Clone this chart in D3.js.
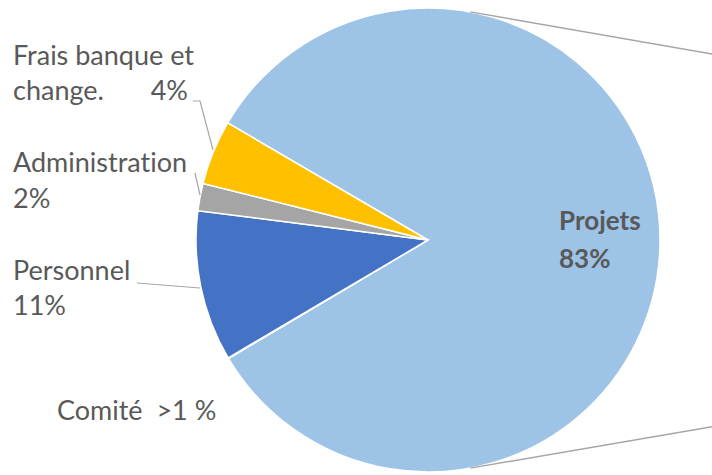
<!DOCTYPE html>
<html>
<head>
<meta charset="utf-8">
<script src="https://cdn.jsdelivr.net/npm/d3@7"></script>
<style>
  body { margin: 0; background: #fff; }
  text { font-family: Lato, "Open Sans", sans-serif; fill: #595959; font-variant-ligatures: none; }
</style>
</head>
<body>
<svg width="712" height="475"></svg>
<script>
// slices, clockwise from the top-left edge of "Projets"
const categories = ['Projets', 'Comité', 'Personnel', 'Administration', 'Frais banque et change.'];
const shares = [83.05, 0.05, 10.5, 1.9, 4.5];
const shownLabels = ['83%', '>1 %', '11%', '2%', '4%'];
const colors = ['#9DC3E6', '#9DC3E6', '#4472C4', '#A5A5A5', '#FFC000'];

const svg = d3.select('svg');
const cx = 428, cy = 240, r = 232;
const g = svg.append('g').attr('transform', `translate(${cx},${cy})`);

const startA = -59.7 * Math.PI / 180;
const pie = d3.pie().sort(null).startAngle(startA).endAngle(startA + 2 * Math.PI);
const arcs = pie(shares).map((a, i) => Object.assign(a, {i}));
const arc = d3.arc().innerRadius(0).outerRadius(r);

g.selectAll('path.slice')
  .data(arcs)
  .enter().append('path')
  .attr('class', 'slice')
  .attr('d', arc)
  .attr('fill', d => colors[d.i])
  .attr('stroke', '#fff')
  .attr('stroke-width', 1.5);

// connector lines to the (cut off) secondary chart
const pt = a => [cx + r * Math.sin(a), cy - r * Math.cos(a)];
const topP = pt(10.5 * Math.PI / 180), botP = pt(169.5 * Math.PI / 180);
svg.append('line').attr('x1', topP[0]).attr('y1', topP[1]).attr('x2', 740).attr('y2', 59)
  .attr('stroke', '#A6A6A6').attr('stroke-width', 1.5);
svg.append('line').attr('x1', botP[0]).attr('y1', botP[1]).attr('x2', 740).attr('y2', 422)
  .attr('stroke', '#A6A6A6').attr('stroke-width', 1.5);

// leader lines
const leaders = [
  [[193, 101], [200, 101], [213, 150]],
  [[195, 173], [200, 195]],
  [[137, 283], [200, 288]]
];
leaders.forEach(p => {
  svg.append('path').attr('d', d3.line()(p))
    .attr('fill', 'none').attr('stroke', '#A6A6A6').attr('stroke-width', 1.2);
});

const fs = 27;
function label(x, y, t, opts = {}) {
  return svg.append('text').attr('x', x).attr('y', y)
    .attr('font-size', opts.size || fs)
    .attr('font-weight', opts.bold ? 'bold' : null)
    .attr('text-anchor', opts.anchor || 'start')
    .text(t);
}
label(13, 65, 'Frais banque et');
label(13, 100, 'change.');
label(188, 100, shownLabels[4], {anchor: 'end'});
label(13, 172, categories[3]);
label(13, 208, shownLabels[3]);
label(13, 280, categories[2]);
label(13, 315, shownLabels[2]);
label(57, 420, categories[1] + '\u00a0 ' + shownLabels[1]);
label(559, 230, categories[0], {bold: true, size: 26});
label(559, 268, shownLabels[0], {bold: true, size: 26});
</script>
</body>
</html>
